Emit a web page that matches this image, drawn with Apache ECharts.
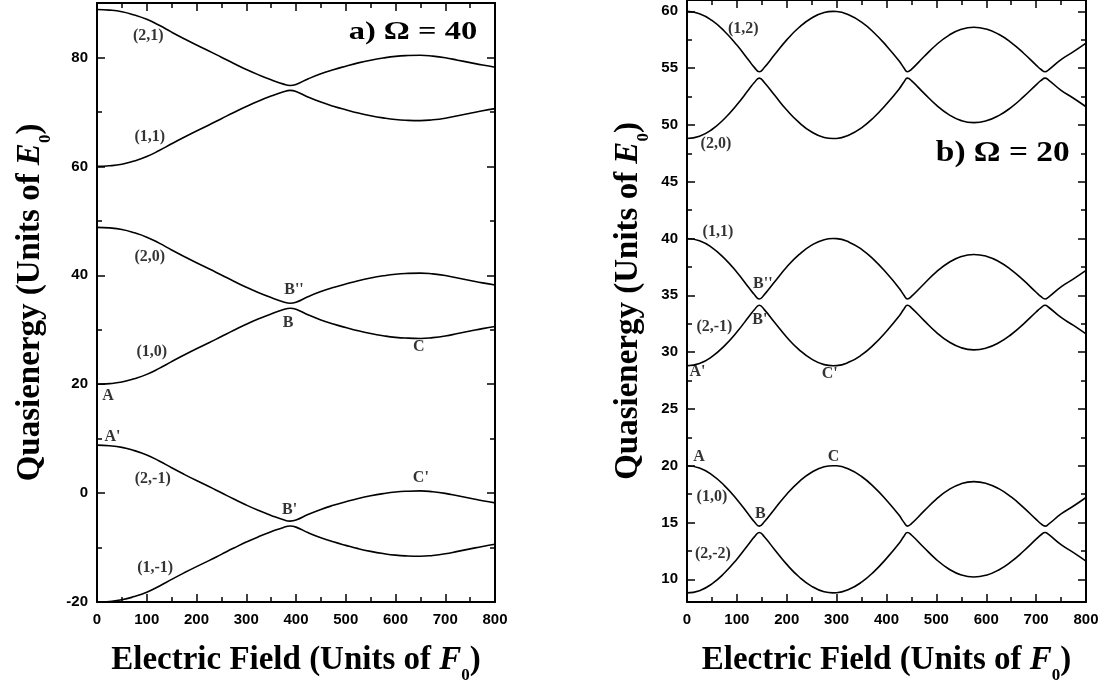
<!DOCTYPE html>
<html><head><meta charset="utf-8">
<script src="https://cdn.jsdelivr.net/npm/echarts@6/dist/echarts.min.js"></script>
<style>html,body{margin:0;padding:0;background:#fff}#c{width:1107px;height:689px}</style>
</head><body><div id="c"></div>
<script>
// ---------- Panel a) Omega = 40 ----------
const fieldA = [0,25,50,75,100,125,150,175,200,225,250,275,300,325,350,375,388,400,425,450,475,500,525,550,575,600,625,650,675,700,725,750,775,800];
const aTopUpper = [88.8,88.7,88.4,87.8,87.0,85.9,84.65,83.45,82.3,81.2,80.05,78.9,77.8,76.8,75.9,75.1,74.85,75.05,76.1,77.0,77.75,78.4,79.0,79.5,79.9,80.2,80.35,80.4,80.25,79.95,79.5,79.05,78.6,78.2];
const aTopLower = [60.0,60.1,60.4,61.0,61.8,62.9,64.15,65.35,66.5,67.6,68.75,69.9,71.0,72.0,72.9,73.7,73.95,73.75,72.7,71.8,71.05,70.4,69.8,69.3,68.9,68.6,68.45,68.4,68.55,68.85,69.3,69.75,70.2,70.6];
const aMidUpper = [48.8,48.7,48.4,47.8,47.0,45.9,44.65,43.45,42.3,41.2,40.05,38.9,37.8,36.8,35.9,35.1,34.85,35.05,36.1,37.0,37.75,38.4,39.0,39.5,39.9,40.2,40.35,40.4,40.25,39.95,39.5,39.05,38.6,38.2];
const aMidLower = [20.0,20.1,20.4,21.0,21.8,22.9,24.15,25.35,26.5,27.6,28.75,29.9,31.0,32.0,32.9,33.7,33.95,33.75,32.7,31.8,31.05,30.4,29.8,29.3,28.9,28.6,28.45,28.4,28.55,28.85,29.3,29.75,30.2,30.6];
const aBotUpper = [8.8,8.7,8.4,7.8,7.0,5.9,4.65,3.45,2.3,1.2,0.05,-1.1,-2.2,-3.2,-4.1,-4.9,-5.15,-4.95,-3.9,-3.0,-2.25,-1.6,-1.0,-0.5,-0.1,0.2,0.35,0.4,0.25,-0.05,-0.5,-0.95,-1.4,-1.8];
const aBotLower = [-20.0,-19.9,-19.6,-19.0,-18.2,-17.1,-15.85,-14.65,-13.5,-12.4,-11.25,-10.1,-9.0,-8.0,-7.1,-6.3,-6.05,-6.25,-7.3,-8.2,-8.95,-9.6,-10.2,-10.7,-11.1,-11.4,-11.55,-11.6,-11.45,-11.15,-10.7,-10.25,-9.8,-9.4];
const yMajorA = [-20,0,20,40,60,80];
const yMinorA = [-10,10,30,50,70];
const notesA = [
  {text:'(2,1)', at:[103,84.0]}, {text:'(1,1)', at:[106,65.4]}, {text:'(2,0)', at:[106,43.3]},
  {text:"B''", at:[396,37.3]}, {text:'B', at:[384,31.2]}, {text:'C', at:[647,26.9]},
  {text:'(1,0)', at:[110,25.85]}, {text:'A', at:[22,17.8]}, {text:"A'", at:[31,10.35]},
  {text:'(2,-1)', at:[112,2.65]}, {text:"C'", at:[651,2.84]}, {text:"B'", at:[387,-3.05]},
  {text:'(1,-1)', at:[117,-13.8]}
];
// ---------- Panel b) Omega = 20 ----------
const fieldB = [0,25,50,75,100,125,135,145,155,175,200,225,250,275,293,300,325,350,375,400,425,435,442,450,475,500,525,550,575,600,625,650,675,700,710,718,725,750,775,800];
const bTopUpper = [60.0,59.8,59.2,58.25,57.03,55.62,55.07,54.68,55.06,56.15,57.49,58.6,59.42,59.9,60.0,59.99,59.68,59.05,58.12,56.96,55.65,55.01,54.68,54.9,56.0,57.06,57.89,58.42,58.6,58.44,57.98,57.25,56.31,55.27,54.88,54.68,54.85,55.75,56.45,57.2];
const bTopLower = [48.8,49.0,49.6,50.55,51.77,53.18,53.73,54.12,53.74,52.65,51.31,50.2,49.38,48.9,48.8,48.81,49.12,49.75,50.68,51.84,53.15,53.79,54.12,53.9,52.8,51.74,50.91,50.38,50.2,50.36,50.82,51.55,52.49,53.53,53.92,54.12,53.95,53.05,52.35,51.6];
const bMidUpper = [40.0,39.8,39.2,38.25,37.03,35.62,35.07,34.68,35.06,36.15,37.49,38.6,39.42,39.9,40.0,39.99,39.68,39.05,38.12,36.96,35.65,35.01,34.68,34.9,36.0,37.06,37.89,38.42,38.6,38.44,37.98,37.25,36.31,35.27,34.88,34.68,34.85,35.75,36.45,37.2];
const bMidLower = [28.8,29.0,29.6,30.55,31.77,33.18,33.73,34.12,33.74,32.65,31.31,30.2,29.38,28.9,28.8,28.81,29.12,29.75,30.68,31.84,33.15,33.79,34.12,33.9,32.8,31.74,30.91,30.38,30.2,30.36,30.82,31.55,32.49,33.53,33.92,34.12,33.95,33.05,32.35,31.6];
const bBotUpper = [20.0,19.8,19.2,18.25,17.03,15.62,15.07,14.68,15.06,16.15,17.49,18.6,19.42,19.9,20.0,19.99,19.68,19.05,18.12,16.96,15.65,15.01,14.68,14.9,16.0,17.06,17.89,18.42,18.6,18.44,17.98,17.25,16.31,15.27,14.88,14.68,14.85,15.75,16.45,17.2];
const bBotLower = [8.8,9.0,9.6,10.55,11.77,13.18,13.73,14.12,13.74,12.65,11.31,10.2,9.38,8.9,8.8,8.81,9.12,9.75,10.68,11.84,13.15,13.79,14.12,13.9,12.8,11.74,10.91,10.38,10.2,10.36,10.82,11.55,12.49,13.53,13.92,14.12,13.95,13.05,12.35,11.6];
const yMajorB = [10,15,20,25,30,35,40,45,50,55,60];
const yMinorB = [12.5,17.5,22.5,27.5,32.5,37.5,42.5,47.5,52.5,57.5];
const notesB = [
  {text:'(1,2)', at:[113,58.5]}, {text:'(2,0)', at:[58,48.35]}, {text:'(1,1)', at:[62,40.6]},
  {text:"B''", at:[152,36.0]}, {text:'(2,-1)', at:[55,32.2]}, {text:"B'", at:[146,32.8]},
  {text:"A'", at:[21,28.25]}, {text:"C'", at:[286,28.1]}, {text:'A', at:[24,20.77]},
  {text:'C', at:[294,20.8]}, {text:'(1,0)', at:[50,17.3]}, {text:'B', at:[147,15.8]},
  {text:'(2,-2)', at:[52,12.26]}
];
const titleA = 'a) \u03A9 = 40';
const titleB = 'b) \u03A9 = 20';
const xTitle = '{m|Electric Field (Units of }{i|F}{s|0}{m|)}';
const yTitle = '{m|Quasienergy (Units of }{i|E}{s|0}{m|)}';

const BLACK = '#000';
const serif = 'Liberation Serif';
const sans = 'Liberation Sans';
const titleRich = {
  m: {fontFamily: serif, fontWeight: 'bold', fontSize: 33, lineHeight: 48, verticalAlign: 'middle', color: BLACK},
  i: {fontFamily: serif, fontWeight: 'bold', fontStyle: 'italic', fontSize: 33, lineHeight: 48, verticalAlign: 'middle', color: BLACK},
  s: {fontFamily: serif, fontWeight: 'bold', fontSize: 17, lineHeight: 17, verticalAlign: 'bottom', color: BLACK}
};
const tickLabel = {fontFamily: sans, fontWeight: 'bold', fontSize: 15, color: BLACK};

function xAxis(g, pos, withLabel) {
  const ax = {
    type: 'value', gridIndex: g, position: pos, min: 0, max: 800, interval: 100,
    axisLine: {show: true, onZero: false, lineStyle: {color: BLACK, width: 2}},
    axisTick: {show: true, inside: true, length: 8, lineStyle: {color: BLACK, width: 1.5}},
    minorTick: {show: true, splitNumber: 2, length: 5, lineStyle: {color: BLACK, width: 1.5}},
    splitLine: {show: false}, minorSplitLine: {show: false},
    axisLabel: Object.assign({show: withLabel, margin: 10}, tickLabel)
  };
  if (withLabel) {
    ax.name = xTitle; ax.nameLocation = 'middle'; ax.nameGap = 34;
    ax.nameTextStyle = {rich: titleRich};
  }
  return ax;
}
function yAxis(g, pos, min, max, values, len, major, withLabel, nameGap) {
  const ax = {
    type: 'value', gridIndex: g, position: pos, min: min, max: max,
    axisLine: {show: major, onZero: false, lineStyle: {color: BLACK, width: 2}},
    axisTick: {show: true, inside: true, length: len, customValues: values, lineStyle: {color: BLACK, width: 1.5}},
    splitLine: {show: false},
    axisLabel: Object.assign({show: withLabel, margin: 9, customValues: values}, tickLabel)
  };
  if (withLabel) {
    ax.name = yTitle; ax.nameLocation = 'middle'; ax.nameGap = nameGap;
    ax.nameTextStyle = {rich: titleRich};
  }
  return ax;
}
function line(xs, ys, xi, yi) {
  return {type: 'line', xAxisIndex: xi, yAxisIndex: yi, data: xs.map((v, i) => [v, ys[i]]),
    symbol: 'none', showSymbol: false, smooth: 0.5, silent: true,
    lineStyle: {color: BLACK, width: 1.6}};
}
function notes(list, xi, yi) {
  return {type: 'scatter', xAxisIndex: xi, yAxisIndex: yi, symbolSize: 1, silent: true,
    itemStyle: {color: 'rgba(0,0,0,0)'},
    data: list.map(n => ({value: n.at, name: n.text})),
    label: {show: true, position: 'inside', formatter: '{b}', fontFamily: serif, fontWeight: 'bold', fontSize: 16, color: BLACK}};
}

const chart = echarts.init(document.getElementById('c'), null, {renderer: 'canvas'});
chart.setOption({
  animation: false,
  backgroundColor: '#fff',
  grid: [
    {left: 97, top: 3, width: 398, height: 600},
    {left: 687, top: 0, width: 399, height: 602}
  ],
  xAxis: [xAxis(0, 'bottom', true), xAxis(0, 'top', false), xAxis(1, 'bottom', true), xAxis(1, 'top', false)],
  yAxis: [
    yAxis(0, 'left', -20, 90, yMajorA, 8, true, true, 43),
    yAxis(0, 'left', -20, 90, yMinorA, 5, false, false),
    yAxis(0, 'right', -20, 90, yMajorA, 8, true, false),
    yAxis(0, 'right', -20, 90, yMinorA, 5, false, false),
    yAxis(1, 'left', 8, 61, yMajorB, 8, true, true, 35),
    yAxis(1, 'left', 8, 61, yMinorB, 5, false, false),
    yAxis(1, 'right', 8, 61, yMajorB, 8, true, false),
    yAxis(1, 'right', 8, 61, yMinorB, 5, false, false)
  ],
  series: [
    line(fieldA, aTopUpper, 0, 0), line(fieldA, aTopLower, 0, 0),
    line(fieldA, aMidUpper, 0, 0), line(fieldA, aMidLower, 0, 0),
    line(fieldA, aBotUpper, 0, 0), line(fieldA, aBotLower, 0, 0),
    line(fieldB, bTopUpper, 2, 4), line(fieldB, bTopLower, 2, 4),
    line(fieldB, bMidUpper, 2, 4), line(fieldB, bMidLower, 2, 4),
    line(fieldB, bBotUpper, 2, 4), line(fieldB, bBotLower, 2, 4),
    notes(notesA, 0, 0), notes(notesB, 2, 4)
  ]
});
const pA = chart.convertToPixel({xAxisIndex: 0, yAxisIndex: 0}, [635, 84.5]);
const pB = chart.convertToPixel({xAxisIndex: 2, yAxisIndex: 4}, [633, 47.45]);
chart.setOption({graphic: [
  {type: 'text', x: pA[0], y: pA[1], scaleX: 1.3, silent: true,
   style: {text: titleA, font: 'bold 25px "Liberation Serif"', fill: BLACK, align: 'center', verticalAlign: 'middle'}},
  {type: 'text', x: pB[0], y: pB[1], scaleX: 1.15, silent: true,
   style: {text: titleB, font: 'bold 29px "Liberation Serif"', fill: BLACK, align: 'center', verticalAlign: 'middle'}}
]});
</script></body></html>
